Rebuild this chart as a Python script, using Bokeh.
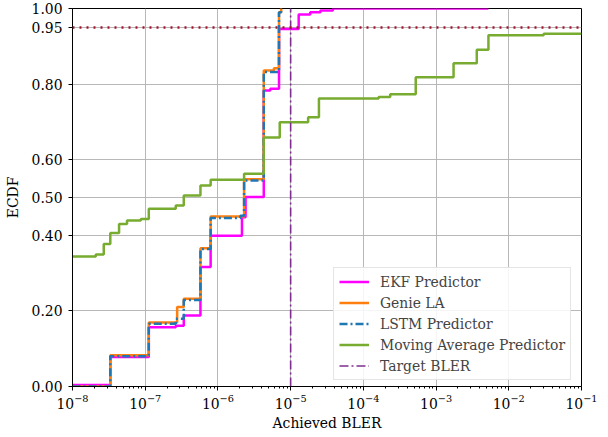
from bokeh.plotting import figure
from bokeh.models import (Range1d, FixedTicker, NumeralTickFormatter, LogTickFormatter,
                          Legend, LegendItem, Span)
from bokeh.embed import file_html
from bokeh.resources import INLINE

# ---------------- data ----------------
bler_ekf = [1e-8, 3.31e-8, 1.12e-7, 2.63e-7, 3.39e-7, 5.75e-7, 7.94e-7, 2.14e-6, 2.40e-6,
            4.27e-6, 5.25e-6, 6.92e-6, 1.29e-5, 1.86e-5, 2.57e-5, 3.80e-5, 5.25e-3]
ecdf_ekf = [0.004, 0.078, 0.157, 0.161, 0.188, 0.316, 0.399, 0.448, 0.501,
            0.783, 0.788, 0.946, 0.984, 0.990, 0.995, 1.0, 1.0]

bler_genie = [1e-8, 3.31e-8, 1.12e-7, 2.75e-7, 3.39e-7, 5.75e-7, 7.94e-7, 2.29e-6,
              4.27e-6, 5.89e-6, 6.92e-6, 7.41e-6, 7.6e-6]
ecdf_genie = [0.0, 0.083, 0.169, 0.210, 0.232, 0.366, 0.450, 0.548,
              0.836, 0.842, 0.990, 1.0, 1.0]

bler_lstm = [1e-8, 3.31e-8, 1.12e-7, 2.63e-7, 3.39e-7, 5.75e-7, 7.94e-7, 2.04e-6, 2.29e-6,
             4.27e-6, 6.92e-6, 7.41e-6, 7.6e-6]
ecdf_lstm = [0.0, 0.080, 0.166, 0.179, 0.229, 0.364, 0.446, 0.452, 0.545,
             0.832, 0.990, 1.0, 1.0]

bler_ma = [1e-8, 2.09e-8, 2.69e-8, 3.31e-8, 4.37e-8, 5.62e-8, 8.7e-8, 1.12e-7, 2.63e-7,
           3.39e-7, 5.75e-7, 7.94e-7, 2.29e-6, 4.27e-6, 7.08e-6, 1.74e-5, 2.45e-5,
           1.62e-4, 2.34e-4, 5.25e-4, 1.74e-3, 3.63e-3, 5.25e-3, 3.02e-2, 1e-1]
ecdf_ma = [0.344, 0.349, 0.377, 0.406, 0.430, 0.439, 0.443, 0.470, 0.479,
           0.505, 0.532, 0.547, 0.563, 0.659, 0.699, 0.712, 0.762,
           0.766, 0.773, 0.818, 0.855, 0.891, 0.929, 0.933, 0.933]

target_bler = 1e-5
target_ecdf = 0.95
ecdf_lo, ecdf_hi = 0.0, 1.0
bler_lo, bler_hi = 1e-8, 1e-1

x_decades = [1e-8, 1e-7, 1e-6, 1e-5, 1e-4, 1e-3, 1e-2, 1e-1]
x_minor = [k * 10.0 ** n for n in range(-8, -1) for k in range(2, 10)]
y_ticks = [0.0, 0.2, 0.4, 0.5, 0.6, 0.8, 0.95, 1.0]

SERIF = "DejaVu Serif"
FS = "13.9px"

# ---------------- figure ----------------
p = figure(width=608, height=437, x_axis_type="log",
           x_range=Range1d(bler_lo, bler_hi), y_range=Range1d(ecdf_lo, ecdf_hi),
           output_backend="svg", toolbar_location=None,
           min_border_left=72, min_border_right=27, min_border_top=8, min_border_bottom=51)
p.background_fill_color = "white"
p.border_fill_color = "white"
p.outline_line_color = "black"
p.outline_line_width = 1
p.outline_line_alpha = 1

r_ekf = p.step(bler_ekf, ecdf_ekf, mode="after", line_color="#ff00ff", line_width=2.5)
r_genie = p.step(bler_genie, ecdf_genie, mode="after", line_color="#ff7f0e", line_width=2.5)
r_lstm = p.step(bler_lstm, ecdf_lstm, mode="after", line_color="#1f77b4", line_width=2.5,
                line_dash="8 3 2 3")
r_ma = p.step(bler_ma, ecdf_ma, mode="after", line_color="#77ac30", line_width=2.5)

tgt_color = "#7e2f8e"
r_tgt = p.line([target_bler, target_bler], [ecdf_lo, ecdf_hi], line_color=tgt_color,
               line_width=1.6, line_dash="9 3 2 3")
p.add_layout(Span(location=target_ecdf, dimension="width", line_color="#a2142f",
                  line_width=2.5, line_dash="2 5"))

# ---------------- axes & grid ----------------
p.xaxis.ticker = FixedTicker(ticks=x_decades, minor_ticks=x_minor)
p.xaxis.formatter = LogTickFormatter()
p.yaxis.ticker = FixedTicker(ticks=y_ticks)
p.yaxis.formatter = NumeralTickFormatter(format="0.00")

for ax in (p.xaxis, p.yaxis):
    ax.axis_line_color = "black"
    ax.major_tick_line_color = "black"
    ax.major_tick_out = 4
    ax.major_tick_in = 0
    ax.minor_tick_out = 2
    ax.minor_tick_in = 0
    ax.major_label_text_font = SERIF
    ax.major_label_text_font_size = FS
    ax.major_label_text_color = "black"
    ax.axis_label_text_font = SERIF
    ax.axis_label_text_font_size = FS
    ax.axis_label_text_font_style = "normal"
    ax.axis_label_text_color = "black"
p.xaxis.minor_tick_line_color = "black"
p.yaxis.minor_tick_line_color = None
p.yaxis.major_label_standoff = 6
p.xaxis.major_label_standoff = 3
p.xaxis.axis_label = "Achieved BLER"
p.yaxis.axis_label = "ECDF"
p.xaxis.axis_label_standoff = 3
p.yaxis.axis_label_standoff = 8

p.xgrid.ticker = FixedTicker(ticks=x_decades)
p.ygrid.ticker = FixedTicker(ticks=y_ticks)
for g in (p.xgrid, p.ygrid):
    g.grid_line_color = "#b0b0b0"
    g.grid_line_width = 1
    g.grid_line_alpha = 0.9

# ---------------- legend ----------------
legend = Legend(items=[
    LegendItem(label="EKF Predictor", renderers=[r_ekf]),
    LegendItem(label="Genie LA", renderers=[r_genie]),
    LegendItem(label="LSTM Predictor", renderers=[r_lstm]),
    LegendItem(label="Moving Average Predictor", renderers=[r_ma]),
    LegendItem(label="Target BLER", renderers=[r_tgt]),
], location=(261, 6))
legend.label_text_font = SERIF
legend.label_text_font_size = FS
legend.glyph_width = 30
legend.glyph_height = 17
legend.label_height = 17
legend.spacing = 4
legend.padding = 5
legend.margin = 0
legend.label_standoff = 11
legend.border_line_color = "#cccccc"
legend.border_line_width = 1
legend.background_fill_alpha = 0.85
p.add_layout(legend)

open("out.html", "w").write(file_html(p, INLINE))
